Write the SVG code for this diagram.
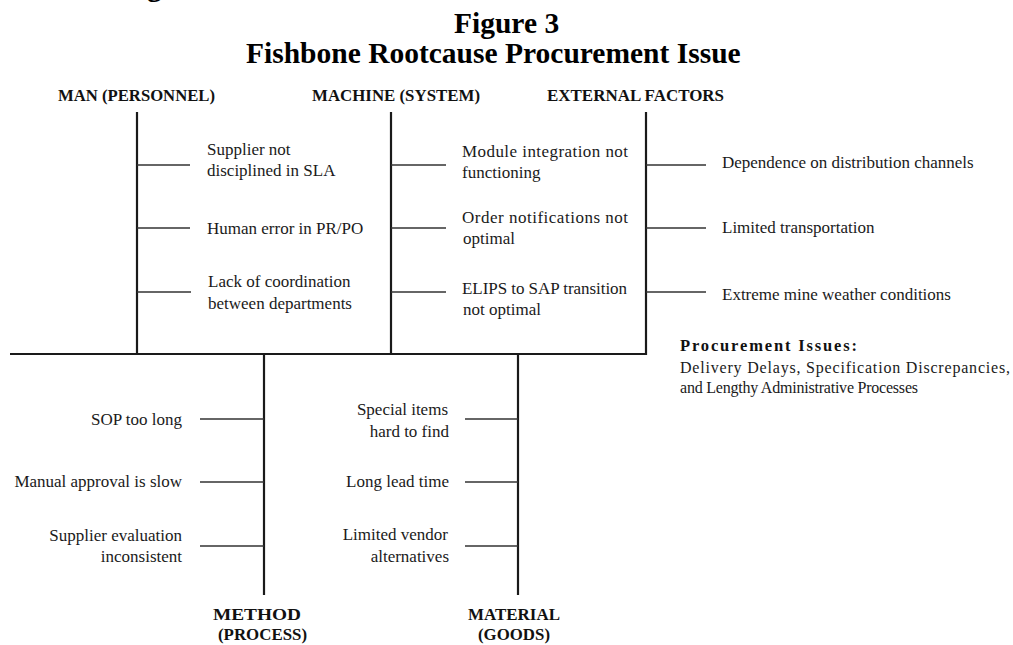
<svg xmlns="http://www.w3.org/2000/svg" width="1013" height="645" viewBox="0 0 1013 645">
  <style>
    .title { font-family: "Liberation Serif", "Times New Roman", serif; font-weight: bold; font-size: 29.5px; fill: #000; }
    .cat { font-family: "Liberation Serif", "Times New Roman", serif; font-weight: bold; font-size: 16.5px; fill: #111; }
    .cause { font-family: "Liberation Serif", "Times New Roman", serif; font-size: 17px; fill: #1a1a1a; }
    .note-h { font-family: "Liberation Serif", "Times New Roman", serif; font-weight: bold; font-size: 16.5px; fill: #111; }
    .note { font-family: "Liberation Serif", "Times New Roman", serif; font-size: 16px; fill: #1a1a1a; }
    .bone { stroke: #1a1a1a; stroke-width: 2.2; fill: none; }
    .rib { stroke: #333; stroke-width: 1.6; fill: none; }
  </style>
  <rect width="1013" height="645" fill="#fff"/>

  <!-- heading (descender of the preceding line is cut off at the top edge) -->
  <text class="title" x="147" y="-4">g</text>
  <text class="title" x="454" y="33">Figure 3</text>
  <text class="title" x="246" y="63">Fishbone Rootcause Procurement Issue</text>

  <!-- bones and ribs -->
  <g id="connectors">
    <line class="bone" x1="10" y1="354" x2="647" y2="354"/>
    <line class="bone" x1="137" y1="112" x2="137" y2="354"/>
    <line class="bone" x1="391" y1="112" x2="391" y2="354"/>
    <line class="bone" x1="646" y1="112" x2="646" y2="355"/>
    <line class="bone" x1="264" y1="354" x2="264" y2="595"/>
    <line class="bone" x1="518" y1="354" x2="518" y2="595"/>

    <line class="rib" x1="137" y1="165" x2="190" y2="165"/>
    <line class="rib" x1="137" y1="228" x2="190" y2="228"/>
    <line class="rib" x1="137" y1="292" x2="191" y2="292"/>

    <line class="rib" x1="391" y1="165" x2="446" y2="165"/>
    <line class="rib" x1="391" y1="228" x2="446" y2="228"/>
    <line class="rib" x1="391" y1="292" x2="446" y2="292"/>

    <line class="rib" x1="646" y1="165" x2="706" y2="165"/>
    <line class="rib" x1="646" y1="228" x2="706" y2="228"/>
    <line class="rib" x1="646" y1="292" x2="706" y2="292"/>

    <line class="rib" x1="200" y1="419" x2="264" y2="419"/>
    <line class="rib" x1="200" y1="482" x2="264" y2="482"/>
    <line class="rib" x1="200" y1="546" x2="264" y2="546"/>

    <line class="rib" x1="465" y1="419" x2="518" y2="419"/>
    <line class="rib" x1="465" y1="482" x2="518" y2="482"/>
    <line class="rib" x1="465" y1="546" x2="518" y2="546"/>
  </g>

  <g id="man">
    <text class="cat" x="58" y="101" textLength="157" lengthAdjust="spacingAndGlyphs">MAN (PERSONNEL)</text>
    <text class="cause" x="207" y="155">Supplier not</text>
    <text class="cause" x="207" y="176">disciplined in SLA</text>
    <text class="cause" x="207" y="234">Human error in PR/PO</text>
    <text class="cause" x="208" y="287">Lack of coordination</text>
    <text class="cause" x="208" y="309">between departments</text>
  </g>

  <g id="machine">
    <text class="cat" x="312" y="101" textLength="168" lengthAdjust="spacingAndGlyphs">MACHINE (SYSTEM)</text>
    <text class="cause" x="462" y="157" textLength="166">Module integration not</text>
    <text class="cause" x="462" y="178">functioning</text>
    <text class="cause" x="462" y="223" textLength="166">Order notifications not</text>
    <text class="cause" x="463" y="244">optimal</text>
    <text class="cause" x="462" y="294" textLength="165">ELIPS to SAP transition</text>
    <text class="cause" x="463" y="315">not optimal</text>
  </g>

  <g id="external">
    <text class="cat" x="547" y="101" textLength="177" lengthAdjust="spacingAndGlyphs">EXTERNAL FACTORS</text>
    <text class="cause" x="722" y="168">Dependence on distribution channels</text>
    <text class="cause" x="722" y="233">Limited transportation</text>
    <text class="cause" x="722" y="300">Extreme mine weather conditions</text>
  </g>

  <g id="method">
    <text class="cause" x="182" y="425" text-anchor="end">SOP too long</text>
    <text class="cause" x="182" y="487" text-anchor="end">Manual approval is slow</text>
    <text class="cause" x="182" y="541" text-anchor="end">Supplier evaluation</text>
    <text class="cause" x="182" y="562" text-anchor="end">inconsistent</text>
    <text class="cat" x="213" y="620" textLength="88" lengthAdjust="spacingAndGlyphs">METHOD</text>
    <text class="cat" x="218" y="640" textLength="89" lengthAdjust="spacingAndGlyphs">(PROCESS)</text>
  </g>

  <g id="material">
    <text class="cause" x="448" y="415" text-anchor="end">Special items</text>
    <text class="cause" x="449" y="437" text-anchor="end">hard to find</text>
    <text class="cause" x="449" y="487" text-anchor="end">Long lead time</text>
    <text class="cause" x="448" y="540" text-anchor="end">Limited vendor</text>
    <text class="cause" x="449" y="562" text-anchor="end">alternatives</text>
    <text class="cat" x="468" y="620" textLength="92" lengthAdjust="spacingAndGlyphs">MATERIAL</text>
    <text class="cat" x="478" y="640" textLength="72" lengthAdjust="spacingAndGlyphs">(GOODS)</text>
  </g>

  <g id="issues">
    <text class="note-h" x="680" y="351" textLength="177">Procurement Issues:</text>
    <text class="note" x="680" y="373" textLength="330">Delivery Delays, Specification Discrepancies,</text>
    <text class="note" x="680" y="393" textLength="238">and Lengthy Administrative Processes</text>
  </g>
</svg>
